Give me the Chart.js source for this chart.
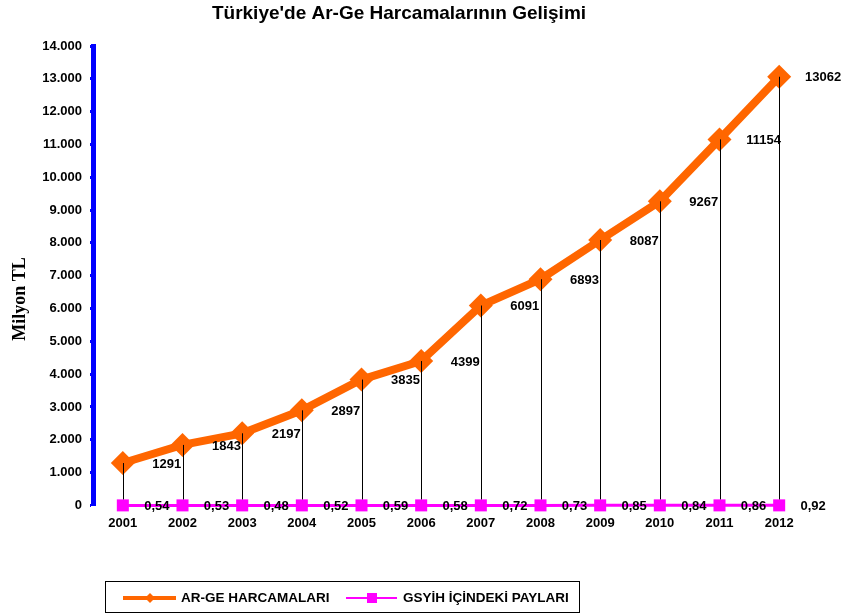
<!DOCTYPE html>
<html>
<head>
<meta charset="utf-8">
<script src="https://cdn.jsdelivr.net/npm/chart.js@4"></script>
<style>
  html, body { margin: 0; padding: 0; background: #fff; }
  #wrap { width: 848px; height: 616px; }
</style>
</head>
<body>
<div id="wrap"><canvas id="chart" width="848" height="616"></canvas></div>
<script>
// Years on the x axis
const years = ["2001", "2002", "2003", "2004", "2005", "2006", "2007", "2008", "2009", "2010", "2011", "2012"];

// R&D spending, million TL
const argeValues = [1291, 1843, 2197, 2897, 3835, 4399, 6091, 6893, 8087, 9267, 11154, 13062];

// Share in GDP (%)
const gsyihValues = [0.54, 0.53, 0.48, 0.52, 0.59, 0.58, 0.72, 0.73, 0.85, 0.84, 0.86, 0.92];

// Series names
const seriesNames = ["AR-GE HARCAMALARI", "GSYİH İÇİNDEKİ PAYLARI"];

const chartTitle = "Türkiye'de Ar-Ge Harcamalarının Gelişimi";
const yTitle = "Milyon TL";

const ORANGE = "#FF6600";
const PINK = "#FF00FF";
const FONT = "'Liberation Sans', Arial, sans-serif";

// thousands with a dot, like 14.000
function fmtThousands(v) {
  if (v === 0) return "0";
  return String(v).replace(/\B(?=(\d{3})+(?!\d))/g, ".");
}

// drop lines, value labels, titles and the boxed legend
const extrasPlugin = {
  id: "extras",
  afterDatasetsDraw(chart) {
    const ctx = chart.ctx;
    const y0 = chart.scales.y.getPixelForValue(0);
    const argeMeta = chart.getDatasetMeta(0);
    const gdpMeta = chart.getDatasetMeta(1);

    ctx.save();
    // vertical drop lines from each orange point down to the axis
    ctx.strokeStyle = "#000";
    ctx.lineWidth = 1;
    argeMeta.data.forEach((pt) => {
      ctx.beginPath();
      ctx.moveTo(Math.round(pt.x) + 0.5, pt.y);
      ctx.lineTo(Math.round(pt.x) + 0.5, y0 - 6);
      ctx.stroke();
    });

    // value labels
    ctx.fillStyle = "#000";
    ctx.font = "bold 13px " + FONT;
    ctx.textAlign = "center";
    ctx.textBaseline = "middle";
    argeMeta.data.forEach((pt, i) => {
      ctx.fillText(String(argeValues[i]), pt.x + 44, pt.y + 1);
    });
    gdpMeta.data.forEach((pt, i) => {
      ctx.fillText(gsyihValues[i].toFixed(2).replace(".", ","), pt.x + 34, pt.y + 1);
    });
    ctx.restore();
  },
  afterDraw(chart) {
    const ctx = chart.ctx;
    ctx.save();
    ctx.fillStyle = "#000";

    // chart title
    ctx.font = "bold 19px " + FONT;
    ctx.textAlign = "center";
    ctx.textBaseline = "middle";
    ctx.fillText(chartTitle, 399, 14);

    // y axis title
    ctx.save();
    ctx.translate(20, 299);
    ctx.rotate(-Math.PI / 2);
    ctx.font = "bold 18px 'Liberation Serif', 'Times New Roman', serif";
    ctx.fillText(yTitle, 0, 0);
    ctx.restore();

    // legend box
    ctx.strokeStyle = "#000";
    ctx.lineWidth = 1;
    ctx.strokeRect(105.5, 581.5, 474, 31);

    const ly = 598;
    ctx.font = "bold 13.5px " + FONT;
    ctx.textBaseline = "middle";
    ctx.textAlign = "left";

    // orange entry
    ctx.strokeStyle = ORANGE;
    ctx.lineWidth = 4;
    ctx.beginPath();
    ctx.moveTo(123, ly);
    ctx.lineTo(176, ly);
    ctx.stroke();
    ctx.fillStyle = ORANGE;
    ctx.beginPath();
    ctx.moveTo(150, ly - 5);
    ctx.lineTo(155, ly);
    ctx.lineTo(150, ly + 5);
    ctx.lineTo(145, ly);
    ctx.closePath();
    ctx.fill();
    ctx.fillStyle = "#000";
    ctx.fillText(seriesNames[0], 181, ly);

    // pink entry
    ctx.strokeStyle = PINK;
    ctx.lineWidth = 2;
    ctx.beginPath();
    ctx.moveTo(346, ly);
    ctx.lineTo(397, ly);
    ctx.stroke();
    ctx.fillStyle = PINK;
    ctx.fillRect(367, ly - 5, 10, 10);
    ctx.fillStyle = "#000";
    ctx.fillText(seriesNames[1], 403, ly);
    ctx.restore();
  }
};

const ctx = document.getElementById("chart").getContext("2d");
new Chart(ctx, {
  type: "line",
  data: {
    labels: years,
    datasets: [
      {
        label: seriesNames[0],
        data: argeValues,
        borderColor: ORANGE,
        backgroundColor: ORANGE,
        borderWidth: 8,
        pointStyle: "rectRot",
        pointRadius: 12,
        pointBorderWidth: 0,
        tension: 0,
        clip: false,
        order: 1,
      },
      {
        label: seriesNames[1],
        data: gsyihValues,
        borderColor: PINK,
        backgroundColor: PINK,
        borderWidth: 3,
        pointStyle: "rect",
        pointRadius: 8.5,
        pointBorderWidth: 0,
        tension: 0,
        clip: false,
        order: 0,
      },
    ],
  },
  options: {
    responsive: false,
    animation: false,
    layout: {
      padding: { left: 0, right: 39, top: 46, bottom: 83 },
    },
    plugins: {
      legend: { display: false },
      tooltip: { enabled: false },
      title: { display: false },
    },
    scales: {
      x: {
        offset: true,
        grid: { display: false },
        border: { display: false },
        ticks: {
          color: "#000",
          font: { family: FONT, size: 13, weight: "bold" },
          padding: 2,
          maxRotation: 0,
        },
      },
      y: {
        min: 0,
        max: 14000,
        afterFit(scale) {
          scale.width = 93;
        },
        ticks: {
          stepSize: 1000,
          color: "#000",
          font: { family: FONT, size: 13, weight: "bold" },
          padding: 8,
          callback: (v) => fmtThousands(v),
        },
        grid: {
          drawOnChartArea: false,
          drawTicks: true,
          tickLength: 3,
          tickWidth: 3,
          tickColor: "#0000FF",
        },
        border: { display: true, color: "#0000FF", width: 5 },
      },
    },
  },
  plugins: [extrasPlugin],
});
</script>
</body>
</html>
